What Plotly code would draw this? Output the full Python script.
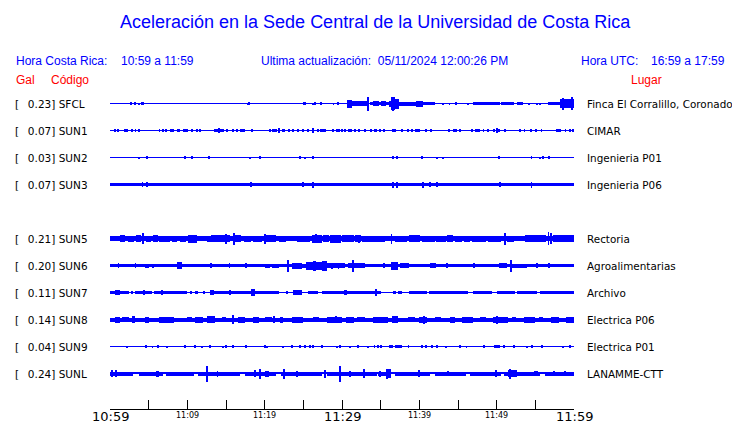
import plotly.graph_objects as go

# ---------------- data ----------------
TITLE = "Aceleración en la Sede Central de la Universidad de Costa Rica"
HORA_CR = "10:59 a 11:59"
HORA_UTC = "16:59 a 17:59"
ACTUALIZACION = "05/11/2024 12:00:26 PM"

CODES = ["SFCL", "SUN1", "SUN2", "SUN3", None, "SUN5", "SUN6", "SUN7", "SUN8", "SUN9", "SUNL"]
GAL = [0.23, 0.07, 0.03, 0.07, None, 0.21, 0.20, 0.11, 0.14, 0.04, 0.24]
PLACES = ["Finca El Corralillo, Coronado", "CIMAR", "Ingenieria P01", "Ingenieria P06", None,
          "Rectoria", "Agroalimentarias", "Archivo", "Electrica P06", "Electrica P01", "LANAMME-CTT"]

# minutes after 10:59 for axis ticks and labels
TICK_MINUTES = [0, 5, 10, 15, 20, 25, 30, 35, 40, 45, 50, 55, 60]
LABEL_MINUTES = [0, 10, 20, 30, 40, 50, 60]
LABEL_TEXT = ["10:59", "11:09", "11:19", "11:29", "11:39", "11:49", "11:59"]
LABEL_MAJOR = [True, False, False, True, False, False, True]

# background half-amplitude of each trace (display units)
BASE_AMP = [0.5, 0.5, 0.5, 1.7, None, 2.3, 1.3, 0.5, 2.0, 0.5, 0.7]

# envelope blocks: [start minute, end minute, half amplitude]
SFCL_BLOCKS = [[2.7, 2.9, 1.3], [3.1, 3.4, 1.3], [4.0, 4.4, 1.3], [17.9, 18.1, 1.3], [24.9, 25.3, 1.3],
               [26.4, 26.7, 1.3], [27.2, 27.4, 1.3], [29.3, 29.6, 1.3], [30.6, 31.25, 4], [31.25, 33.2, 2.7],
               [33.6, 36.2, 1.7], [34.05, 34.8, 2.5], [35.1, 35.7, 2.5], [36.2, 36.4, 3], [36.4, 36.9, 6.5],
               [36.9, 37.4, 5], [37.4, 39.6, 2], [39.6, 40.5, 3], [40.5, 42.0, 1.7], [44.7, 44.9, 1.5],
               [47.0, 50.4, 1.7], [50.6, 52.3, 1.7], [52.6, 53.4, 1.7], [56.7, 58.2, 1.5], [58.2, 60.0, 4.5]]
SUN1_BLOCKS = [[1.85, 2.3, 1.3], [7.8, 8.0, 1.3], [8.6, 9.05, 1.3], [9.5, 10.1, 1.3], [13.5, 14.8, 1.3],
               [15.8, 16.0, 1.3], [16.8, 17.4, 1.3], [20.9, 21.55, 1.3], [22.3, 22.6, 1.3], [27.2, 27.9, 1.3],
               [29.2, 29.8, 1.3], [30.8, 31.25, 1.3], [34.2, 34.5, 1.3], [36.5, 37.0, 1.3], [38.4, 38.7, 1.3],
               [39.0, 39.2, 1.3], [39.4, 40.1, 1.3], [44.3, 44.9, 1.3], [47.2, 47.8, 1.3], [50.9, 51.2, 1.3],
               [57.7, 58.3, 1.3]]
SUN2_BLOCKS = [[36.5, 36.7, 1.3], [50.2, 50.4, 1.3]]
SUN3_BLOCKS = []
SUN5_BLOCKS = [[1.3, 2.0, 3.3], [2.3, 3.1, 3.0], [3.3, 4.0, 3.3], [4.6, 5.3, 3.0], [5.6, 6.2, 3.3],
               [6.4, 7.7, 3.0], [8.0, 8.6, 3.0], [9.0, 9.8, 3.0], [10.1, 11.2, 4.0], [11.4, 12.4, 2.8],
               [12.5, 13.0, 3.0], [13.1, 15.5, 3.3], [16.1, 17.0, 3.3], [17.3, 18.2, 3.0], [18.5, 19.6, 3.0],
               [20.2, 21.5, 3.3], [21.8, 22.7, 3.0], [23.1, 24.0, 2.8], [24.2, 25.9, 3.0], [26.1, 27.4, 4.0],
               [27.5, 28.3, 3.3], [28.4, 29.9, 4.0], [30.0, 31.6, 3.3], [31.7, 32.4, 3.3], [32.6, 35.6, 3.0],
               [36.8, 38.4, 3.0], [38.6, 40.1, 3.3], [40.3, 42.0, 3.0], [42.2, 43.5, 3.0], [43.6, 44.4, 3.3],
               [44.6, 45.5, 3.0], [45.8, 46.6, 3.0], [46.8, 48.6, 3.0], [48.9, 50.5, 3.0], [51.3, 52.3, 3.0],
               [53.6, 56.4, 3.3], [57.3, 60.0, 3.3]]
SUN6_BLOCKS = [[0.0, 1.3, 1.7], [4.5, 5.0, 2.0], [5.7, 8.2, 1.7], [8.6, 9.3, 3.3], [13.4, 15.3, 1.7],
               [16.0, 19.5, 1.7], [20.0, 20.7, 2.0], [20.9, 21.8, 2.0], [23.5, 24.8, 3.0], [24.8, 25.4, 2.0],
               [25.4, 26.2, 4.0], [26.2, 26.6, 5.0], [26.6, 27.4, 4.0], [27.4, 28.0, 5.0], [28.0, 30.4, 2.7],
               [30.4, 30.8, 1.7], [30.8, 33.0, 2.5], [35.3, 35.6, 2.5], [36.4, 37.3, 4.0], [37.5, 38.6, 2.5],
               [41.4, 42.2, 2.5], [50.3, 51.3, 2.5], [52.0, 53.9, 2.0], [53.9, 60.0, 1.7]]
SUN7_BLOCKS = [[0.0, 2.4, 1.7], [0.6, 1.3, 2.5], [2.8, 3.0, 1.7], [3.2, 5.4, 1.7], [5.7, 9.9, 1.7],
               [10.3, 10.6, 1.7], [11.0, 11.4, 1.7], [12.1, 12.3, 1.7], [12.9, 13.4, 2.5], [13.4, 21.8, 1.7],
               [22.8, 23.0, 1.7], [23.7, 24.8, 2.5], [25.6, 26.9, 1.7], [27.4, 30.6, 1.7], [30.3, 30.6, 2.5],
               [30.6, 35.1, 1.7], [36.6, 37.0, 1.7], [37.3, 37.7, 1.7], [38.6, 41.0, 1.7], [41.2, 46.3, 1.7],
               [46.9, 49.4, 1.7], [50.0, 52.4, 1.7], [52.6, 55.2, 1.7], [55.6, 60.0, 1.7]]
SUN8_BLOCKS = [[0.6, 1.3, 3.0], [1.5, 2.4, 2.7], [2.9, 3.2, 3.3], [4.5, 5.0, 3.0], [6.4, 8.3, 3.0],
               [10.0, 10.6, 2.7], [11.0, 12.0, 3.0], [12.6, 13.6, 3.3], [14.5, 15.0, 2.7], [16.6, 17.5, 3.0],
               [18.5, 19.3, 3.0], [20.0, 20.9, 2.7], [22.0, 22.4, 3.0], [23.5, 25.0, 3.0], [26.3, 27.0, 2.7],
               [28.0, 30.0, 3.0], [30.5, 31.5, 3.0], [32.0, 33.0, 2.7], [34.0, 36.0, 3.0], [36.5, 37.3, 3.3],
               [38.5, 39.5, 2.7], [40.0, 41.0, 3.0], [42.0, 42.8, 2.7], [44.0, 44.6, 3.0], [45.5, 47.0, 3.0],
               [47.8, 48.6, 2.7], [49.5, 51.5, 3.0], [52.0, 52.5, 2.7], [53.5, 55.0, 3.0], [55.5, 56.0, 2.7],
               [57.0, 58.0, 3.0], [59.0, 60.0, 3.0]]
SUN9_BLOCKS = [[10.9, 11.1, 1.3], [12.8, 13.1, 1.3], [17.5, 17.7, 1.3], [25.7, 26.0, 1.3], [36.1, 36.6, 1.3],
               [36.8, 37.7, 1.3], [40.3, 40.5, 1.3], [40.8, 41.0, 1.3], [48.2, 48.5, 1.3], [49.7, 50.4, 1.3]]
SUNL_BLOCKS = [[0.0, 3.0, 2], [3.7, 6.9, 2], [5.9, 6.3, 3], [7.3, 10.8, 2], [11.4, 16.8, 2], [17.4, 21.5, 2],
               [20.0, 20.6, 3], [22.1, 27.4, 2], [24.0, 24.3, 3], [28.1, 34.5, 2], [32.7, 33.0, 4.5],
               [34.7, 36.4, 2], [35.7, 36.3, 4.5], [36.8, 41.4, 2], [42.0, 46.0, 2], [46.5, 50.5, 2],
               [51.0, 55.6, 2], [51.5, 52.6, 3.5], [54.8, 55.3, 2.7], [56.2, 60.0, 2], [58.7, 59.0, 2.7]]

# isolated spikes: [minute, half amplitude]
SFCL_SPIKES = [[3.8, 1], [17.8, 1], [26.2, 1], [28.9, 1], [33.4, 7], [36.6, 7], [43.1, 1], [43.9, 1],
               [46.25, 1], [54.2, 1], [55.2, 1], [55.6, 1], [58.6, 6], [59.7, 6.5]]
SUN1_SPIKES = [[0.65, 1.3], [1.0, 1.3], [2.9, 1.3], [3.3, 1.3], [3.8, 1.3], [6.4, 1.3], [6.8, 1.3], [7.2, 1.3],
               [8.2, 1.3], [10.65, 1.3], [11.2, 1.3], [11.6, 1.3], [14.1, 2.5], [15.1, 1.3], [16.4, 1.3],
               [18.4, 1.3], [20.7, 1.3], [21.9, 2.5], [23.1, 1.3], [23.7, 1.3], [24.3, 1.3], [24.9, 1.3],
               [25.6, 1.3], [26.2, 2.5], [26.9, 1.3], [28.8, 1.3], [30.0, 1.3], [30.4, 1.3], [31.7, 1.3],
               [32.2, 1.3], [33.0, 1.3], [33.7, 1.3], [34.9, 1.3], [35.4, 1.3], [37.8, 1.3], [40.9, 1.3],
               [41.5, 1.3], [43.8, 1.3], [45.3, 1.3], [46.8, 1.3], [48.3, 1.3], [48.9, 1.3], [49.7, 1.3],
               [50.0, 2.5], [50.3, 1.3], [53.0, 1.3], [53.6, 1.3], [54.4, 1.3], [55.1, 1.3], [55.8, 1.3],
               [58.9, 1.3], [59.5, 1.3], [59.9, 1.3]]
SUN2_SPIKES = [[3.7, 1], [4.8, 1.3], [9.7, 1.3], [10.6, 1.3], [12.8, 1.3], [18.1, 1], [19.4, 1.3], [24.6, 1.3],
               [25.2, 1], [26.2, 1.3], [37.1, 1.3], [40.3, 1.3], [42.3, 1], [43.1, 1], [54.5, 1.3], [55.6, 1],
               [56.0, 1.3], [56.8, 1.3]]
SUN3_SPIKES = [[4.2, 2.5], [4.8, 2.5], [18.2, 2.5], [24.9, 2.5], [26.2, 3], [36.6, 3], [37.1, 3], [40.5, 3],
               [41.4, 2.5], [42.3, 2.5], [50.4, 2.5], [54.5, 3]]
SUN5_SPIKES = [[4.3, 5.7], [15.0, 5.0], [16.0, 6.0], [20.1, 5.0], [26.6, 4.5], [32.25, 4.0], [36.4, 5.0],
               [51.1, 6.0], [56.7, 6.5], [57.0, 5.5]]
SUN6_SPIKES = [[1.1, 2.5], [3.3, 2.5], [5.55, 2.0], [13.1, 2.5], [15.45, 2.2], [17.55, 2.5], [23.0, 6.0],
               [28.65, 3.0], [29.55, 3.0], [31.4, 6.0], [43.55, 2.5], [47.05, 2.5], [51.9, 6.0], [55.25, 2.5],
               [56.75, 2.5]]
SUN7_SPIKES = [[4.4, 2.2], [6.75, 2.5], [15.55, 2.5], [18.4, 3.5], [18.6, 3.5], [34.45, 3.5]]
SUN8_SPIKES = [[15.95, 4.5], [21.15, 3.5], [29.25, 3.5], [40.55, 4.0], [50.05, 4.0]]
SUN9_SPIKES = [[2.2, 1], [4.7, 1.3], [5.5, 1], [6.25, 1.3], [7.4, 1], [9.7, 1.3], [11.9, 1], [14.6, 1],
               [15.0, 1.3], [15.9, 1.3], [20.0, 1.3], [20.3, 1], [22.4, 1], [23.5, 1.3], [24.6, 1.3],
               [25.2, 1.3], [26.3, 1.3], [27.4, 1.3], [29.4, 1], [29.7, 1.3], [31.0, 1], [32.1, 1.3],
               [33.4, 1], [34.2, 1.3], [34.6, 1.3], [35.0, 1.3], [38.6, 1.3], [41.6, 1.3], [42.3, 1.3],
               [43.5, 1], [45.2, 1.3], [46.1, 1], [51.0, 1.3], [52.2, 1.3], [53.9, 1], [54.6, 1.3],
               [55.9, 1.3], [58.6, 1], [59.5, 1.3]]
SUNL_SPIKES = [[0.3, 3.5], [0.8, 3.5], [12.5, 8], [13.9, 3], [18.75, 3.5], [19.4, 5], [22.5, 5], [27.85, 4],
               [29.7, 8], [31.0, 3], [34.95, 3], [35.8, 5], [39.95, 3.5], [43.75, 2.8], [49.95, 3.5],
               [51.75, 5], [57.45, 2.5]]

BLOCKS = [SFCL_BLOCKS, SUN1_BLOCKS, SUN2_BLOCKS, SUN3_BLOCKS, None, SUN5_BLOCKS, SUN6_BLOCKS,
          SUN7_BLOCKS, SUN8_BLOCKS, SUN9_BLOCKS, SUNL_BLOCKS]
SPIKES = [SFCL_SPIKES, SUN1_SPIKES, SUN2_SPIKES, SUN3_SPIKES, None, SUN5_SPIKES, SUN6_SPIKES,
          SUN7_SPIKES, SUN8_SPIKES, SUN9_SPIKES, SUNL_SPIKES]

# ---------------- layout constants ----------------
PAGE_OFFSET = 8                 # default body margin of the html page
W, H = 740 - PAGE_OFFSET, 423 - PAGE_OFFSET
# plot area, in window pixels
PL, PR, PT, PB = 110 - PAGE_OFFSET, 574 - PAGE_OFFSET, 88 - PAGE_OFFSET, 409 - PAGE_OFFSET
ROW_GAP = 27
ROW0_PX = 103.5 - PAGE_OFFSET
SPIKE_W = 0.12
BLUE = "#0000ff"
RED = "#ff0000"
SANS = "Liberation Sans, Arial, sans-serif"
DJV = "DejaVu Sans, sans-serif"
T_END = TICK_MINUTES[-1]


def xp(px):
    """window pixel x -> paper coordinate"""
    return (px - PAGE_OFFSET - PL) / (PR - PL)


def yp(py):
    """window pixel y -> paper coordinate"""
    return (PB - (py - PAGE_OFFSET)) / (PB - PT)


fig = go.Figure()

for k, code in enumerate(CODES):
    if code is None:
        continue
    yc = k * ROW_GAP
    xs, ws, bs, hs = [], [], [], []
    b = BASE_AMP[k]
    xs.append(T_END / 2); ws.append(T_END); bs.append(yc - b); hs.append(2 * b)
    for t0, t1, a in BLOCKS[k]:
        xs.append((t0 + t1) / 2); ws.append(t1 - t0); bs.append(yc - a); hs.append(2 * a)
    for t, a in SPIKES[k]:
        xs.append(t); ws.append(SPIKE_W); bs.append(yc - a); hs.append(2 * a)
    fig.add_trace(go.Bar(x=xs, y=hs, base=bs, width=ws, name=code,
                         marker=dict(color=BLUE, line=dict(width=0)),
                         hoverinfo="skip", showlegend=False))

ann = []


def txt(text, px, py, size, color, family, anchor="left"):
    ann.append(dict(text=text, x=xp(px), y=yp(py), xref="paper", yref="paper",
                    xanchor=anchor, yanchor="middle", showarrow=False, borderpad=0,
                    font=dict(size=size, color=color, family=family)))


txt(TITLE, 375.5, 22, 18, BLUE, SANS, "center")
txt("Hora Costa Rica:", 15, 61, 12, BLUE, SANS)
txt(HORA_CR, 120, 61, 12, BLUE, SANS)
txt("Ultima actualización:\u00a0\u00a0" + ACTUALIZACION, 260, 61, 12, BLUE, SANS)
txt("Hora UTC:", 580, 61, 12, BLUE, SANS)
txt(HORA_UTC, 650, 61, 12, BLUE, SANS)
txt("Gal", 15, 80.5, 12, RED, SANS)
txt("Código", 50, 80.5, 12, RED, SANS)
txt("Lugar", 630, 80.5, 12, RED, SANS)

for k, code in enumerate(CODES):
    if code is None:
        continue
    label = "[" + "\u00a0\u00a0\u2009" + f"{GAL[k]:.2f}] {code}"
    ann.append(dict(text=label, x=xp(14), y=k * ROW_GAP, xref="paper", yref="y",
                    xanchor="left", yanchor="middle", showarrow=False, borderpad=0,
                    font=dict(size=10.5, color="black", family=DJV)))
    ann.append(dict(text=PLACES[k], x=xp(586), y=k * ROW_GAP, xref="paper", yref="y",
                    xanchor="left", yanchor="middle", showarrow=False, borderpad=0,
                    font=dict(size=10.4, color="black", family=DJV)))

for m, lab, major in zip(LABEL_MINUTES, LABEL_TEXT, LABEL_MAJOR):
    ann.append(dict(text=lab, x=m, y=0, xref="x", yref="paper", xanchor="center",
                    yanchor="middle", yshift=-7 if major else -6, showarrow=False, borderpad=0,
                    font=dict(size=13 if major else 8, color="black", family=DJV)))

fig.update_layout(
    width=W, height=H,
    margin=dict(l=PL, r=W - PR, t=PT, b=H - PB, pad=0),
    paper_bgcolor="white", plot_bgcolor="white",
    barmode="overlay", bargap=0, bargroupgap=0,
    showlegend=False,
    annotations=ann,
    xaxis=dict(range=[0, T_END], tickvals=TICK_MINUTES, ticks="inside", ticklen=9,
               tickcolor="black", tickwidth=1, showticklabels=False, showgrid=False,
               zeroline=False, showline=True, linecolor="black", linewidth=1, fixedrange=True),
    yaxis=dict(range=[PB - ROW0_PX, PT - ROW0_PX], visible=False, showgrid=False,
               zeroline=False, fixedrange=True),
)

fig.write_html("out.html")
